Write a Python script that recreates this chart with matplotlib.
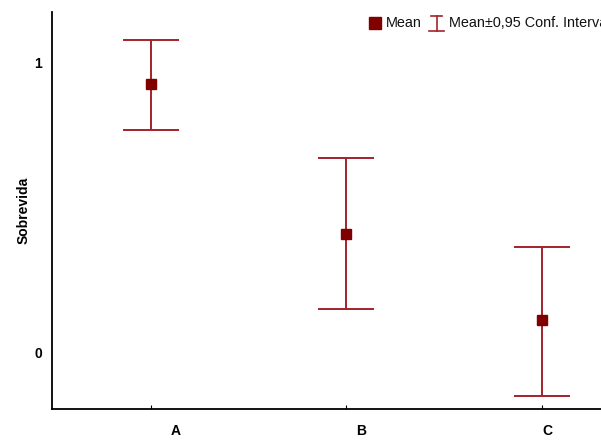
import matplotlib
matplotlib.use("Agg")
import matplotlib.pyplot as plt
from matplotlib.lines import Line2D

plt.rcParams["font.family"] = ["Liberation Sans", "DejaVu Sans"]

groups = ["A", "B", "C"]
means = [0.927, 0.408, 0.111]
ci_low = [0.768, 0.149, -0.152]
ci_high = [1.080, 0.671, 0.363]

MEAN_COLOR = "#800000"
BAR_COLOR = "#A3232B"

fig = plt.figure(figsize=(6.01, 4.40), dpi=100)
ax = fig.add_axes([0.0865, 0.0705, 0.9135, 0.9022])

x = list(range(len(groups)))
yerr = [[m - lo for m, lo in zip(means, ci_low)],
        [hi - m for m, hi in zip(means, ci_high)]]
ax.errorbar(x, means, yerr=yerr, fmt="none", ecolor=BAR_COLOR,
            elinewidth=1.4, capsize=20, capthick=1.4, zorder=2)
ax.plot(x, means, ls="none", marker="s", ms=7.5, color=MEAN_COLOR,
        mec=MEAN_COLOR, zorder=3)

ax.set_xlim(-0.506, 2.302)
ax.set_ylim(-0.197, 1.176)

# small tick marks at the group positions, labels drawn slightly to the right
ax.set_xticks(x, minor=True)
ax.tick_params(axis="x", which="minor", direction="in", length=3, width=0.8)
label_pos = [0.128, 1.077, 2.026]
ax.set_xticks(label_pos)
ax.set_xticklabels(groups, fontsize=10, fontweight="bold")
ax.tick_params(axis="x", which="major", length=0, pad=11)

ax.set_yticks([0, 1])
ax.set_yticklabels(["0", "1"], fontsize=10, fontweight="bold")
ax.tick_params(axis="y", length=0, pad=7)
ax.set_ylabel("Sobrevida", fontsize=10, fontweight="bold", labelpad=3)

for side in ("top", "right"):
    ax.spines[side].set_visible(False)
for side in ("left", "bottom"):
    ax.spines[side].set_linewidth(1.3)

# legend row at the top
fig.add_artist(Line2D([375 / 601], [1 - 23 / 440], marker="s", ms=8,
                      color=MEAN_COLOR, ls="none", transform=fig.transFigure))
fig.text(386 / 601, 1 - 23 / 440, "Mean", fontsize=10.4, va="center",
         ha="left", color="#111111")
fig.add_artist(Line2D([436.5 / 601] * 2, [1 - 16 / 440, 1 - 31 / 440],
                      color=BAR_COLOR, lw=1.2, transform=fig.transFigure))
fig.add_artist(Line2D([431 / 601, 442 / 601], [1 - 16 / 440] * 2,
                      color=BAR_COLOR, lw=1.2, transform=fig.transFigure))
fig.add_artist(Line2D([429 / 601, 444 / 601], [1 - 31 / 440] * 2,
                      color=BAR_COLOR, lw=1.2, transform=fig.transFigure))
fig.text(449 / 601, 1 - 23 / 440, "Mean\u00b10,95 Conf. Interval", fontsize=10.4,
         va="center", ha="left", color="#111111")

fig.savefig("out.png", dpi=100)
